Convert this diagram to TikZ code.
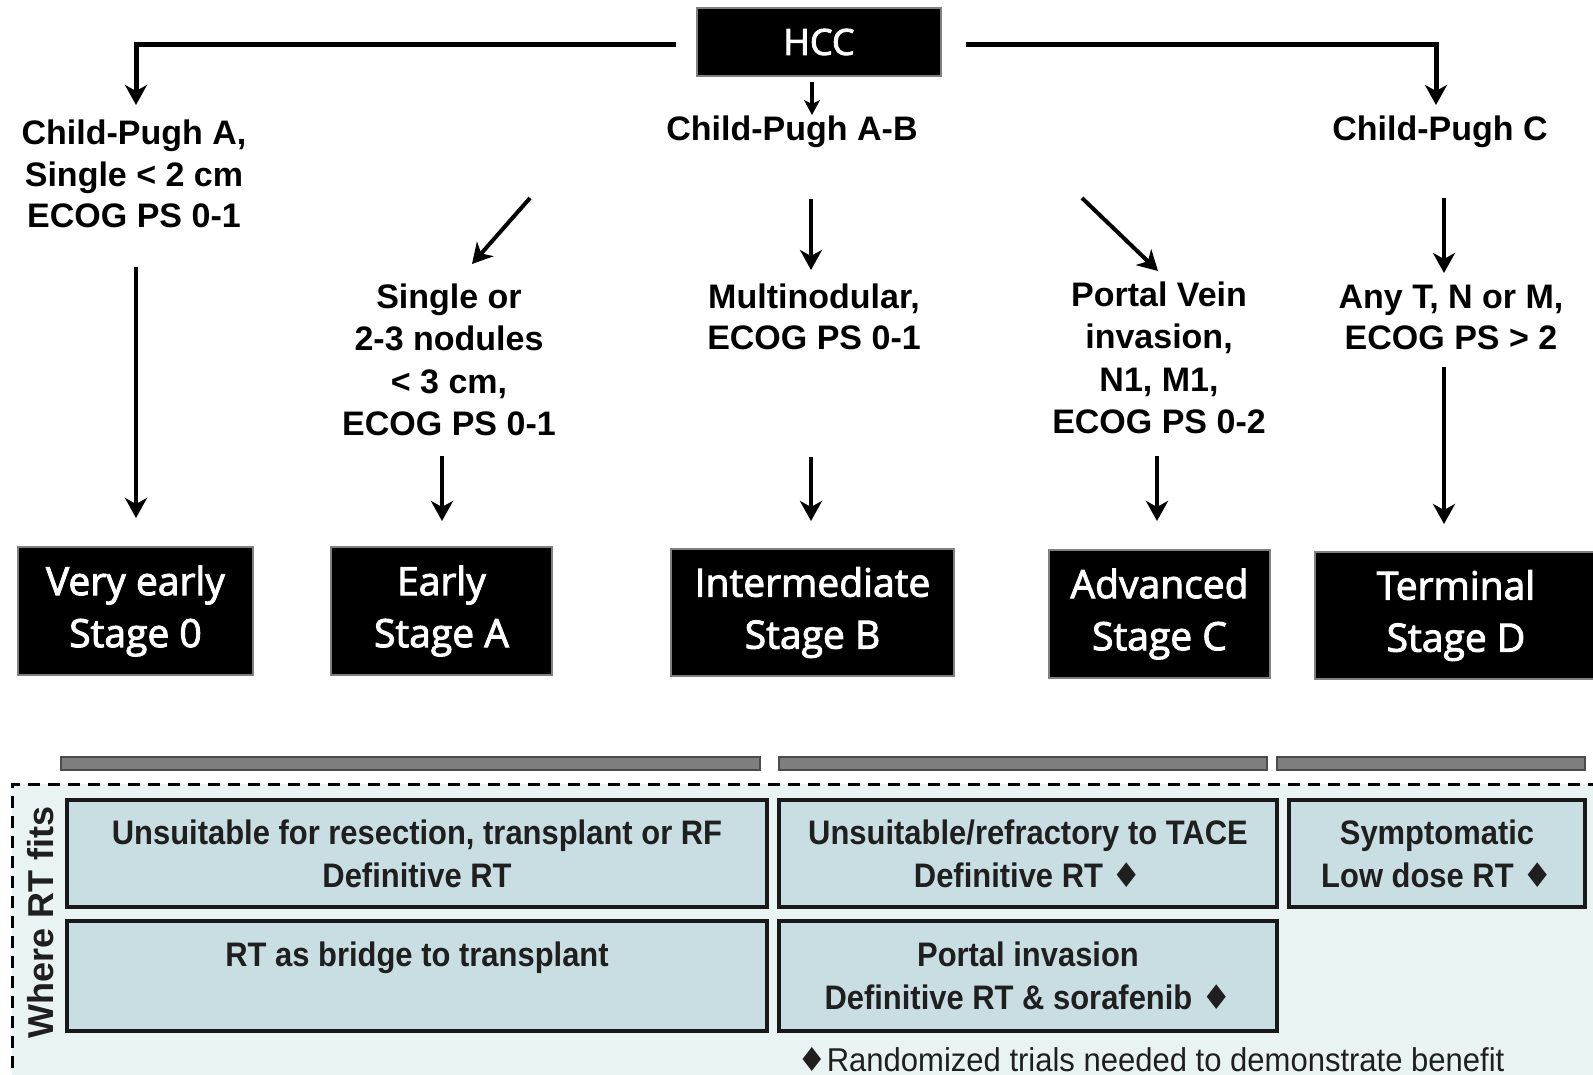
\documentclass[tikz,border=0pt]{standalone}
\usepackage{fontspec}
\setmainfont{Liberation Sans}
\newfontfamily\stagef[FakeBold=2.5]{Open Sans}
\newfontfamily\narrowf[FakeStretch=0.91]{Liberation Sans}
\newfontfamily\notef[FakeStretch=0.94]{Liberation Sans}
\newfontfamily\symf{DejaVu Sans}
\usetikzlibrary{arrows.meta}
\definecolor{boxc}{HTML}{C9DEE2}
\definecolor{bgc}{HTML}{EAF3F3}
\definecolor{barc}{HTML}{7E7E7E}
\newcommand\dmd{{\symf ♦}}
\tikzset{
 stagebox/.style={fill=black, draw=gray, line width=1.5pt, text=white, align=center, inner sep=0pt, font=\stagef\fontsize{39}{52}\selectfont},
 lbl/.style={align=center, inner sep=0pt, font=\bfseries\fontsize{34}{41.5}\selectfont},
 arr/.style={line width=4pt, -{Stealth[length=20pt,width=22pt,inset=6pt]}},
 rtbox/.style={fill=boxc, draw=black!90, line width=4pt, align=center, inner sep=0pt, text=black!88, font=\narrowf\bfseries\fontsize{34}{43}\selectfont},
 greybar/.style={fill=barc, draw=black!70, line width=2pt},
}
\begin{document}
\begin{tikzpicture}[x=1pt,y=-1pt]
\useasboundingbox (0,0) rectangle (1593,1075);
% ---------- top part ----------
\node[stagebox, minimum width=244pt, minimum height=68pt, font=\stagef\fontsize{36}{40}\selectfont] (hcc) at (819,42) {HCC};

\node[lbl] (cpA) at (134,174) {Child-Pugh A,\\Single < 2 cm\\ECOG PS 0-1};
\node[lbl] (cpAB) at (792,132) {Child-Pugh A-B};
\node[lbl] (cpC) at (1440,132) {Child-Pugh C};
\node[lbl, font=\bfseries\fontsize{34}{42.5}\selectfont] (sgl) at (449,360) {Single or\\2-3 nodules\\< 3 cm,\\ECOG PS 0-1};
\node[lbl, font=\bfseries\fontsize{34}{41}\selectfont] (mn) at (814,317) {Multinodular,\\ECOG PS 0-1};
\node[lbl, font=\bfseries\fontsize{34}{42.5}\selectfont] (pv) at (1159,358) {Portal Vein\\invasion,\\N1, M1,\\ECOG PS 0-2};
\node[lbl, font=\bfseries\fontsize{34}{41}\selectfont] (anyT) at (1451,317) {Any T, N or M,\\ECOG PS > 2};

\node[stagebox, minimum width=235pt, minimum height=128pt] (v0) at (135.5,611) {Very early\\Stage 0};
\node[stagebox, minimum width=221pt, minimum height=128pt] (eA) at (441.5,611) {Early\\Stage A};
\node[stagebox, minimum width=283pt, minimum height=127pt] (iB) at (812.5,612.5) {Intermediate\\Stage B};
\node[stagebox, minimum width=221pt, minimum height=128pt] (aC) at (1159.5,614) {Advanced\\Stage C};
\node[stagebox, minimum width=282pt, minimum height=127pt] (tD) at (1456,615.5) {Terminal\\Stage D};

% connector end points
\coordinate (hL) at (676,45);
\coordinate (hR) at (966,45);
\coordinate (cpAt) at (136,105);
\coordinate (cpCt) at (1436,105);
\coordinate (hD1) at (812,82);  \coordinate (hD2) at (812,115);
\coordinate (a1) at (136,267);  \coordinate (a2) at (136,518);
\coordinate (b1) at (530,198);  \coordinate (b2) at (472,264);
\coordinate (b3) at (442,456);  \coordinate (b4) at (442,521);
\coordinate (c1) at (811,199);  \coordinate (c2) at (811,270);
\coordinate (c3) at (811,457);  \coordinate (c4) at (811,521);
\coordinate (d1) at (1082,198); \coordinate (d2) at (1158,271);
\coordinate (d3) at (1157,456); \coordinate (d4) at (1157,521);
\coordinate (e1) at (1444,198); \coordinate (e2) at (1444,273);
\coordinate (e3) at (1444,367); \coordinate (e4) at (1444,524);

\draw[arr, line width=5pt] (hL) -| (cpAt);
\draw[arr, line width=5pt] (hR) -| (cpCt);
\draw[arr, line width=3.5pt, -{Stealth[length=15pt,width=16pt,inset=4pt]}] (hD1) -- (hD2);
\draw[arr] (a1) -- (a2);
\draw[arr] (b1) -- (b2);
\draw[arr] (b3) -- (b4);
\draw[arr] (c1) -- (c2);
\draw[arr] (c3) -- (c4);
\draw[arr] (d1) -- (d2);
\draw[arr] (d3) -- (d4);
\draw[arr] (e1) -- (e2);
\draw[arr] (e3) -- (e4);

% ---------- bottom part ----------
\fill[bgc] (12,784) rectangle (1600,1080);
\draw[line width=3pt, dash pattern=on 12pt off 8pt] (1600,784) -- (12,784) -- (12,1080);

\draw[greybar] (61,757) rectangle (760,770);
\draw[greybar] (779,757) rectangle (1267,770);
\draw[greybar] (1277,757) rectangle (1585,770);

\node[rotate=90, inner sep=0pt, font=\bfseries\fontsize{36}{40}\selectfont, text=black!88] (where) at (41,922) {Where RT fits};

\node[rtbox, minimum width=700pt, minimum height=107pt] (r1) at (417,853.5) {Unsuitable for resection, transplant or RF\\Definitive RT};
\node[rtbox, minimum width=498pt, minimum height=107pt] (r2) at (1028,853.5) {Unsuitable/refractory to TACE\\Definitive RT \dmd};
\node[rtbox, minimum width=296pt, minimum height=107pt] (r3) at (1437,853.5) {Symptomatic\\Low dose RT \dmd};
\node[rtbox, minimum width=700pt, minimum height=110pt] (r4) at (417,976) {RT as bridge to transplant\\\phantom{X}};
\node[rtbox, minimum width=498pt, minimum height=110pt] (r5) at (1028,976) {Portal invasion\\Definitive RT \& sorafenib \dmd};

\node[anchor=base west, inner sep=0pt, font=\notef\fontsize{33}{38}\selectfont, text=black!88] (note) at (797,1071) {\dmd Randomized trials needed to demonstrate benefit};
\end{tikzpicture}
\end{document}
